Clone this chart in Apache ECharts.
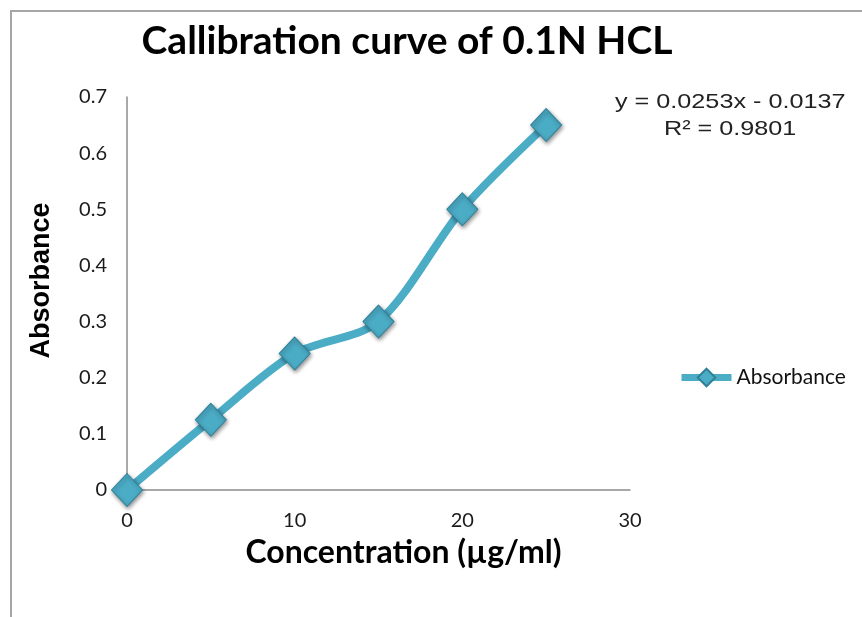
<!DOCTYPE html>
<html>
<head>
<meta charset="utf-8">
<script src="https://cdn.jsdelivr.net/npm/echarts@6/dist/echarts.min.js"></script>
<style>
  html, body { margin: 0; padding: 0; background: #fff; }
  #chart { width: 862px; height: 617px; }
</style>
</head>
<body>
<div id="chart"></div>
<script>
// concentration (µg/ml) vs absorbance
var concentration = [0, 5, 10, 15, 20, 25];
var absorbance = [0, 0.125, 0.243, 0.3, 0.5, 0.65];
var trendLines = ['y = 0.0253x - 0.0137', 'R\u00b2 = 0.9801'];

var points = [];
for (var i = 0; i < concentration.length; i++) {
  points.push([concentration[i], absorbance[i]]);
}

var chart = echarts.init(document.getElementById('chart'));
var lineColor = '#4bacc6';

var option = {
  animation: false,
  title: {
    text: 'Callibration curve of 0.1N HCL',
    left: 402,
    textAlign: 'center',
    top: 17,
    textStyle: { fontFamily: 'Lato', fontWeight: 'bold', fontSize: 39, color: '#000' }
  },
  legend: {
    left: 678,
    top: 367,
    padding: 0,
    itemWidth: 50,
    itemHeight: 22,
    data: ['Absorbance'],
    lineStyle: { width: 7 },
    textStyle: { fontFamily: 'Lato', fontSize: 21, color: '#111' }
  },
  grid: { left: 127, right: 232, top: 97, bottom: 127 },
  xAxis: {
    type: 'value',
    min: 0,
    max: 30,
    interval: 10,
    name: 'Concentration (\u00b5g/ml)',
    nameLocation: 'middle',
    nameGap: 47,
    nameTextStyle: {
      fontFamily: 'Lato', fontWeight: 'bold', fontSize: 32, color: '#000',
      padding: [0, 0, 0, 50]
    },
    axisLine: { lineStyle: { color: '#8c8c8c', width: 1.5 } },
    axisTick: { show: false },
    splitLine: { show: false },
    axisLabel: { margin: 21, fontFamily: 'Lato', fontSize: 20, color: '#1a1a1a' }
  },
  yAxis: {
    type: 'value',
    min: 0,
    max: 0.7,
    interval: 0.1,
    name: 'Absorbance',
    nameLocation: 'middle',
    nameGap: 72,
    nameTextStyle: {
      fontFamily: 'Liberation Sans', fontWeight: 'bold', fontSize: 27, color: '#000',
      padding: [0, 0, 0, 26]
    },
    axisLine: { show: true, lineStyle: { color: '#8c8c8c', width: 1.5 } },
    axisTick: { show: false },
    splitLine: { show: false },
    axisLabel: { margin: 20, fontFamily: 'Lato', fontSize: 20, color: '#1a1a1a' }
  },
  graphic: [
    {
      type: 'rect',
      shape: { x: 11, y: 11, width: 1000, height: 800 },
      style: { fill: 'none', stroke: '#a6a6a6', lineWidth: 2 },
      z: -1
    },
    {
      type: 'text',
      x: 615,
      y: 92,
      scaleX: 1.2,
      style: { text: trendLines[0], fontFamily: 'Liberation Sans', fontSize: 21, fill: '#222' }
    },
    {
      type: 'text',
      x: 664,
      y: 119,
      scaleX: 1.2,
      style: { text: trendLines[1], fontFamily: 'Liberation Sans', fontSize: 21, fill: '#222' }
    }
  ],
  series: [
    {
      name: 'Absorbance',
      type: 'line',
      data: points,
      smooth: 0.3,
      symbol: 'diamond',
      symbolSize: [31, 33],
      lineStyle: { color: lineColor, width: 8 },
      itemStyle: {
        color: lineColor,
        borderColor: '#2f8198',
        borderWidth: 1,
        shadowBlur: 4,
        shadowColor: 'rgba(0,0,0,0.45)',
        shadowOffsetX: 1,
        shadowOffsetY: 2
      }
    }
  ]
};

chart.setOption(option);
</script>
</body>
</html>
